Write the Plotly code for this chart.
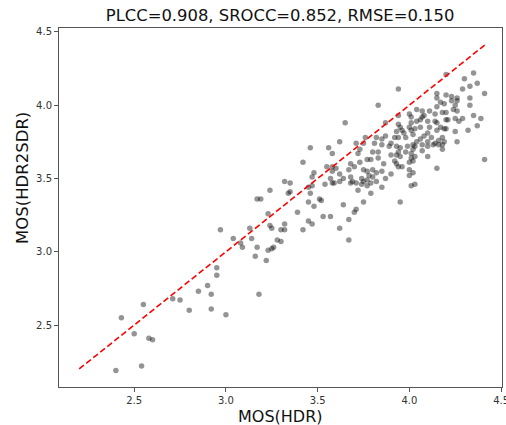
import plotly.graph_objects as go

# ---- data (MOS(HDR) -> x, MOS(HDR2SDR) -> y) ----
hdr_low = [2.40, 2.43, 2.50, 2.54, 2.55, 2.58, 2.60, 2.71, 2.75, 2.80, 2.85, 2.90, 2.92, 2.92, 2.95,
           2.95, 3.00, 2.97, 3.04, 3.08, 3.09, 3.13, 3.14, 3.17, 3.16, 3.18, 3.22, 3.23, 3.25, 3.26,
           3.17, 3.19, 3.24, 3.23, 3.24, 3.25, 3.28, 3.30, 3.30, 3.32, 3.32, 3.32, 3.35, 3.34, 3.35]
sdr_low = [2.19, 2.55, 2.44, 2.22, 2.64, 2.41, 2.40, 2.68, 2.67, 2.60, 2.73, 2.77, 2.71, 2.61, 2.89,
           2.84, 2.57, 3.15, 3.09, 3.06, 3.03, 3.16, 3.09, 3.03, 2.97, 2.71, 2.94, 3.01, 3.02, 3.03,
           3.36, 3.36, 3.42, 3.26, 3.18, 3.16, 3.08, 3.07, 3.15, 3.15, 3.19, 3.48, 3.47, 3.40, 3.41]

hdr_upper = [3.65, 3.83, 3.94, 3.87, 3.94, 3.76, 3.82, 3.85, 3.87, 3.93, 3.94, 3.92, 3.94]
sdr_upper = [3.88, 4.00, 4.11, 3.88, 3.93, 3.78, 3.78, 3.77, 3.79, 3.82, 3.87, 3.78, 3.78]

hdr_top = [4.20, 4.35, 4.30, 4.33, 4.37, 4.29, 4.41, 4.15, 4.20, 4.23, 4.15, 4.23, 4.26, 4.26, 4.17,
           4.19, 4.33, 4.33, 4.15, 4.25, 4.24, 4.04, 4.07, 4.11, 4.18, 4.20, 4.00, 4.01, 4.07, 4.08,
           4.06, 4.14, 4.35, 4.25, 4.04, 4.01, 4.10, 4.14, 4.15, 4.20, 4.21, 4.27, 4.39, 4.37, 4.32,
           4.25, 4.19, 4.20, 4.15, 4.17, 4.11, 4.06, 4.03, 4.00, 4.01, 3.95, 3.96, 3.97, 3.98, 4.02,
           4.08, 4.10, 4.12, 4.16, 4.18, 4.19, 4.06, 4.04, 4.10, 4.26, 4.14, 4.29, 4.26]
sdr_top = [4.21, 4.22, 4.18, 4.13, 4.15, 4.11, 4.08, 4.08, 4.07, 4.06, 4.05, 4.03, 4.05, 4.03, 4.02,
           4.01, 4.05, 4.00, 3.99, 4.00, 3.97, 3.97, 3.96, 3.96, 3.95, 3.95, 3.94, 3.92, 3.92, 3.93,
           3.90, 3.94, 3.93, 3.91, 3.89, 3.88, 3.89, 3.89, 3.88, 3.90, 3.90, 3.89, 3.91, 3.86, 3.83,
           3.82, 3.84, 3.84, 3.83, 3.85, 3.85, 3.85, 3.84, 3.85, 3.83, 3.85, 3.83, 3.81, 3.78, 3.80,
           3.79, 3.81, 3.78, 3.76, 3.78, 3.75, 3.77, 3.75, 3.75, 3.75, 3.74, 3.91, 3.96]

hdr_right = [3.95, 3.99, 4.02, 4.03, 4.02, 4.07, 4.07, 4.10, 4.13, 4.16, 4.18, 4.18, 3.94, 3.93, 3.95,
             3.98, 4.01, 4.03, 4.01, 4.10, 4.00, 4.02, 3.93, 3.94, 3.96, 4.00, 4.02, 4.00, 4.15, 4.41,
             4.01, 4.03, 3.95]
sdr_right = [3.71, 3.72, 3.73, 3.72, 3.70, 3.73, 3.69, 3.72, 3.73, 3.73, 3.73, 3.70, 3.68, 3.66, 3.65,
             3.68, 3.67, 3.65, 3.64, 3.65, 3.61, 3.62, 3.60, 3.58, 3.58, 3.56, 3.54, 3.52, 3.57, 3.63,
             3.45, 3.46, 3.34]

hdr_mid = [3.46, 3.56, 3.62, 3.58, 3.71, 3.73, 3.72, 3.75, 3.81, 3.85, 3.89, 3.90, 3.93, 3.90, 3.80,
           3.83, 3.83, 3.79, 3.77, 3.73, 3.68, 3.70, 3.67, 3.42, 3.48, 3.47, 3.55, 3.58, 3.60, 3.58,
           3.62, 3.64, 3.68, 3.69, 3.74, 3.75, 3.77, 3.78, 3.80, 3.82, 3.82, 3.85, 3.87, 3.90, 3.92,
           3.86, 3.80, 3.77, 3.75, 3.57, 3.58, 3.54, 3.59, 3.62, 3.68, 3.71, 3.74, 3.77, 3.79, 3.85,
           3.45, 3.47, 3.46, 3.51, 3.52, 3.45, 3.48, 3.39, 3.53, 3.57, 3.64, 3.72, 3.79, 3.75, 3.71,
           3.70, 3.67, 3.45, 3.47, 3.42, 3.62, 3.67]
sdr_mid = [3.71, 3.71, 3.75, 3.67, 3.74, 3.70, 3.67, 3.74, 3.74, 3.73, 3.72, 3.74, 3.72, 3.66, 3.68,
           3.68, 3.64, 3.63, 3.63, 3.61, 3.60, 3.58, 3.56, 3.61, 3.54, 3.51, 3.58, 3.58, 3.57, 3.55,
           3.53, 3.50, 3.51, 3.48, 3.50, 3.48, 3.49, 3.52, 3.51, 3.48, 3.54, 3.55, 3.50, 3.53, 3.62,
           3.60, 3.56, 3.55, 3.56, 3.50, 3.47, 3.46, 3.47, 3.48, 3.47, 3.47, 3.46, 3.45, 3.47, 3.44,
           3.44, 3.45, 3.40, 3.36, 3.35, 3.34, 3.31, 3.27, 3.24, 3.24, 3.32, 3.42, 3.40, 3.34, 3.29,
           3.27, 3.22, 3.21, 3.19, 3.15, 3.16, 3.08]

mos_hdr = hdr_low + hdr_upper + hdr_top + hdr_right + hdr_mid
mos_hdr2sdr = sdr_low + sdr_upper + sdr_top + sdr_right + sdr_mid

# identity reference line endpoints (data min / max)
line_ends = [2.20, 4.42]

title_text = "PLCC=0.908, SROCC=0.852, RMSE=0.150"
x_label = "MOS(HDR)"
y_label = "MOS(HDR2SDR)"
tick_vals = [2.5, 3.0, 3.5, 4.0, 4.5]
tick_text = ["2.5", "3.0", "3.5", "4.0", "4.5"]

FONT = "DejaVu Sans"

fig = go.Figure()
fig.add_trace(go.Scatter(
    x=mos_hdr, y=mos_hdr2sdr, mode="markers",
    marker=dict(size=5.5, color="rgba(0,0,0,0.42)", line=dict(width=0)),
    showlegend=False, hoverinfo="skip"))
fig.add_trace(go.Scatter(
    x=line_ends, y=line_ends, mode="lines",
    line=dict(color="red", width=1.6, dash="6px,3px"),
    showlegend=False, hoverinfo="skip"))

axis_common = dict(
    showgrid=False, zeroline=False, showline=True, mirror=True, automargin=False,
    linecolor="#555555", linewidth=1,
    ticks="outside", ticklen=4, tickcolor="#555555", tickwidth=1,
    tickfont=dict(family=FONT, size=10, color="#333333"),
    tickvals=tick_vals, ticktext=tick_text, ticklabeloverflow="allow",
)

# plot area: left 59, right 502, top 28, bottom 387 (px)
fig.update_layout(
    width=506, height=425,
    paper_bgcolor="white", plot_bgcolor="white",
    margin=dict(l=59, r=4, t=28, b=38, autoexpand=False),
    title=dict(text=title_text, x=0.5535, xanchor="center", y=1 - 15 / 425, yanchor="middle",
               yref="container", font=dict(family=FONT, size=16.4, color="#111111")),
    xaxis=dict(range=[2.09, 4.505], **axis_common),
    yaxis=dict(range=[2.077, 4.527], **axis_common),
    annotations=[
        dict(text=x_label, xref="paper", yref="paper", x=0.5, y=(387 - 416) / 359,
             xanchor="center", yanchor="middle", showarrow=False,
             font=dict(family=FONT, size=16, color="#111111")),
        dict(text=y_label, xref="paper", yref="paper", x=(22 - 59) / 443, y=(387 - 178) / 359,
             xanchor="center", yanchor="middle", showarrow=False, textangle=-90,
             font=dict(family=FONT, size=16.5, color="#111111")),
    ],
)

fig.write_html("out.html", config={"displayModeBar": False},
               post_script="document.body.style.margin='0px';document.body.style.overflow='hidden';")
